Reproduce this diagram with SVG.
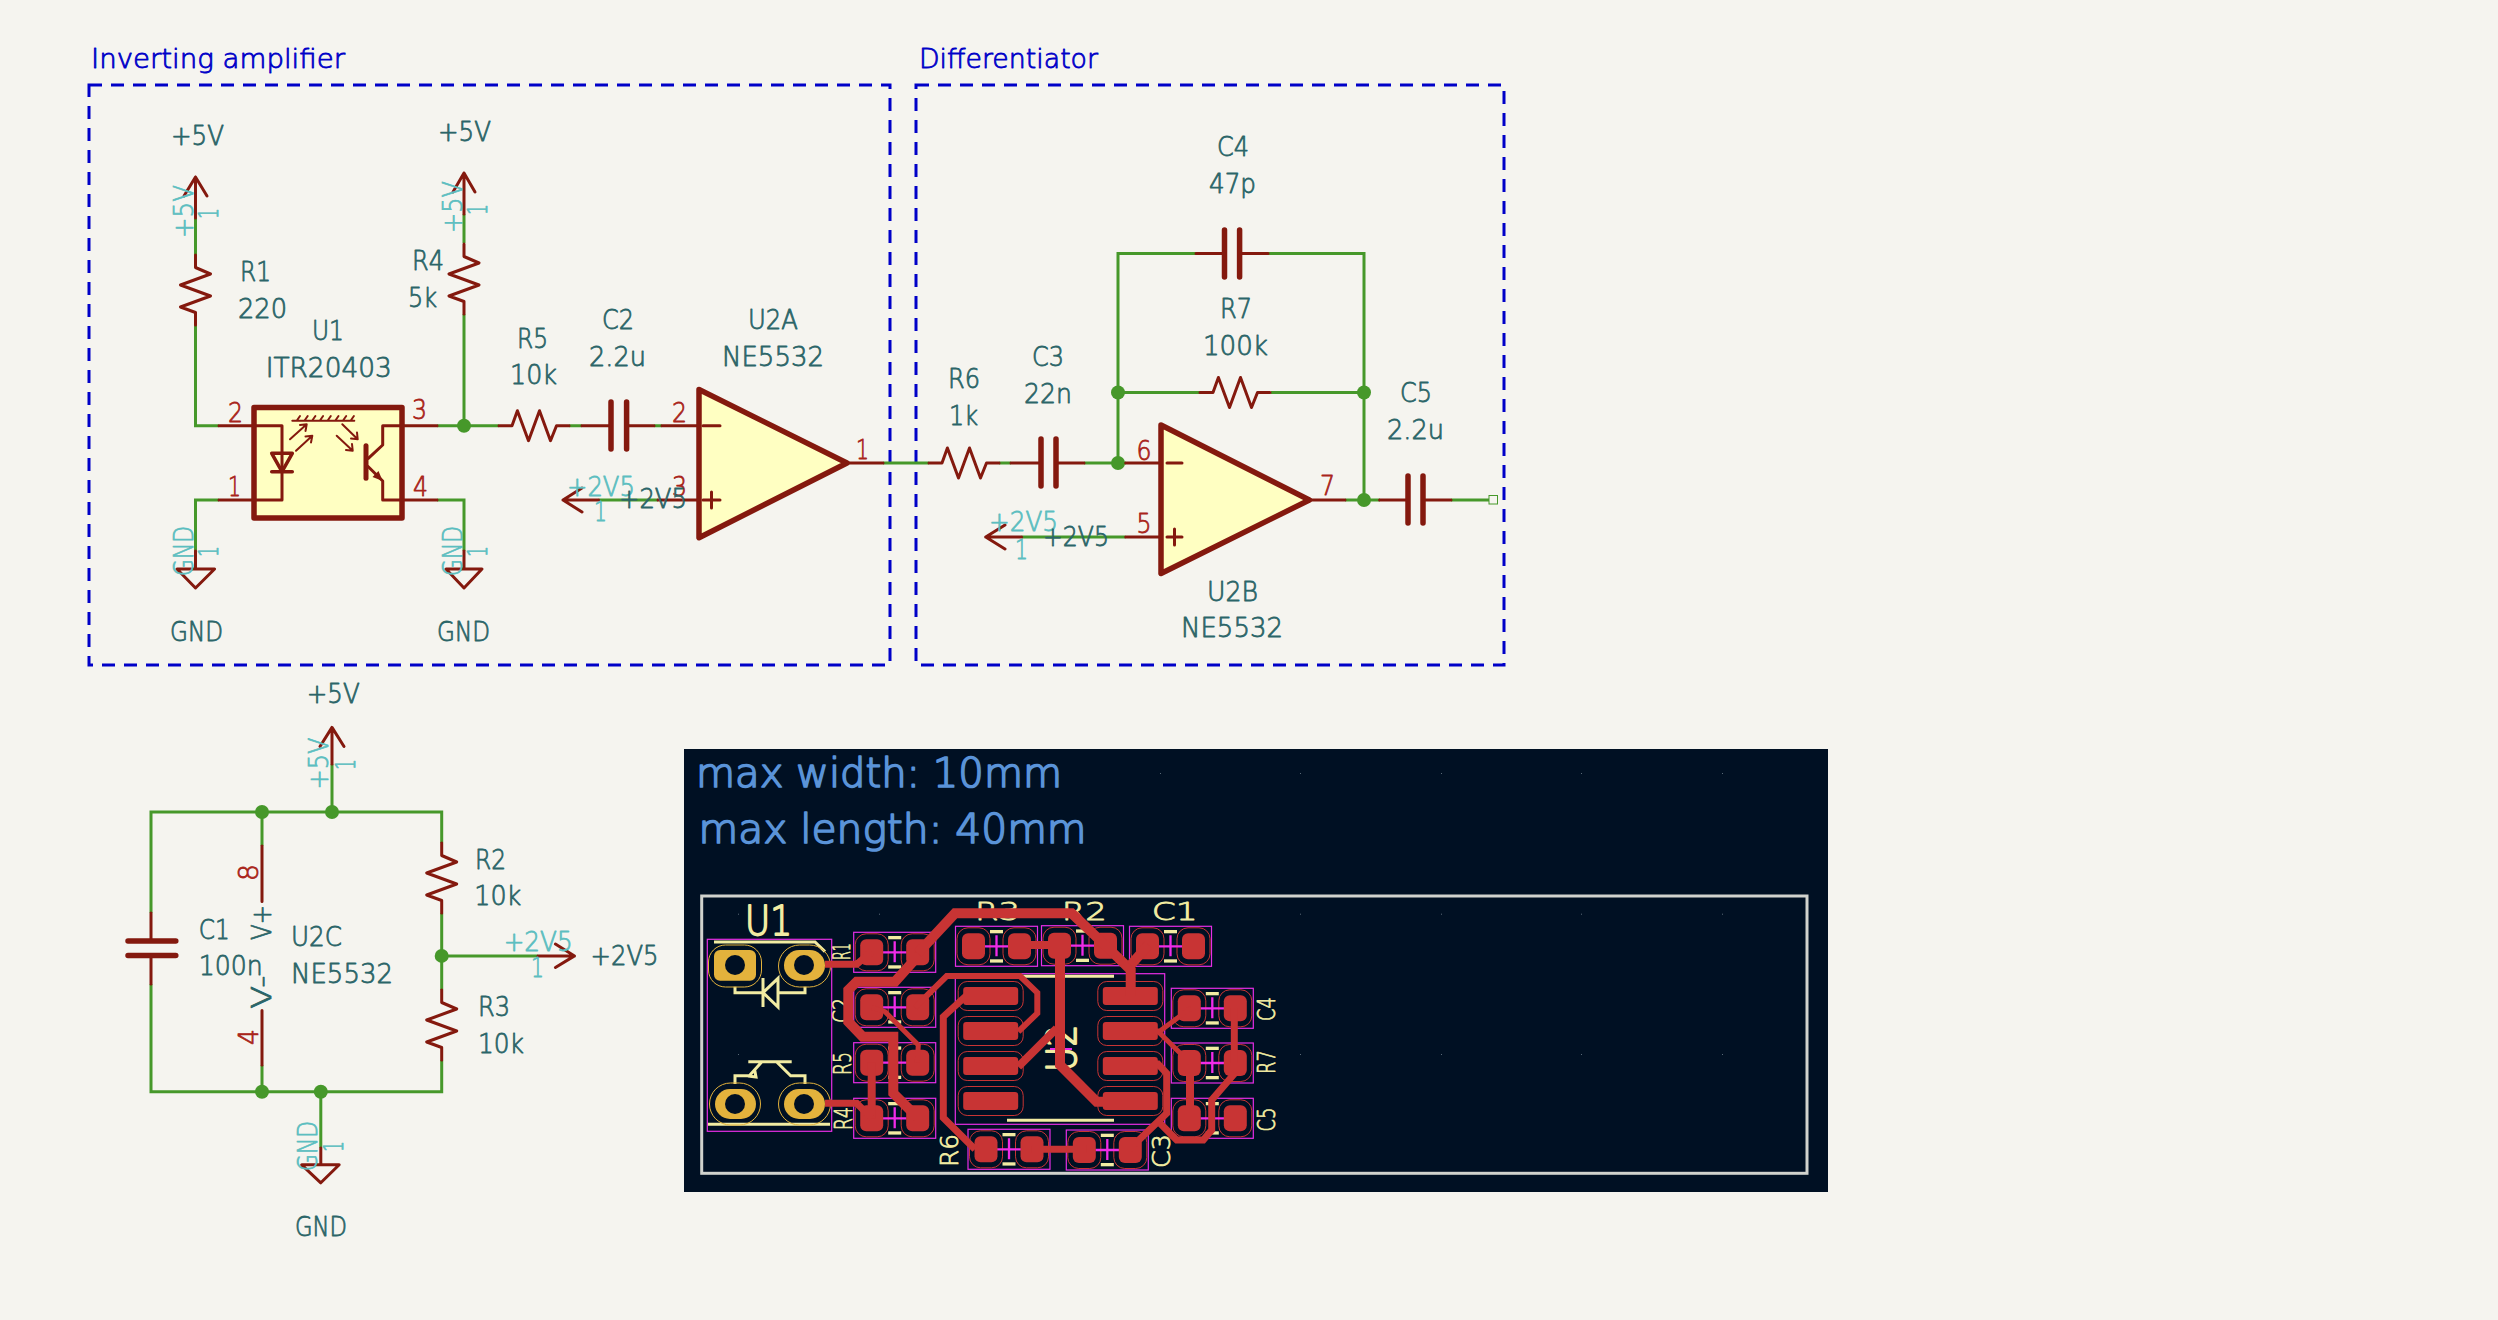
<svg xmlns="http://www.w3.org/2000/svg" width="2498" height="1320" viewBox="0 0 2498 1320">
<style>
text{font-family:"DejaVu Sans","Liberation Sans",sans-serif;font-weight:200;stroke-linejoin:round}
.w{fill:none;stroke:#46982a;stroke-width:3;stroke-linejoin:miter}
.s{fill:none;stroke:#84190e;stroke-width:3;stroke-linejoin:round;stroke-linecap:round}
.b{fill:#ffffc2;stroke:#84190e;stroke-width:5.500;stroke-linejoin:round}
.p{fill:none;stroke:#84190e;stroke-width:5.500;stroke-linecap:round}
.v{fill:#2b6568;stroke:#2b6568;stroke-width:.8;font-size:26.500px}
.n{fill:#a9241a;stroke:#a9241a;stroke-width:.8;font-size:26.500px}
.c{fill:#5cbec0;stroke:#5cbec0;stroke-width:.8;font-size:26.500px}
.t{fill:#0000c8;stroke:#0000c8;stroke-width:.8;font-size:26.500px}
.j{fill:#46982a}
.d{fill:none;stroke:#0000c8;stroke-width:3;stroke-dasharray:13 9}
.tr{fill:none;stroke:#c83434;stroke-linejoin:miter;stroke-linecap:butt}
.sk{fill:#f2eca2;stroke:#f2eca2;stroke-width:.8;font-size:24px}
.bg{font-size:40px;stroke-width:1.800}
.pt{fill:#5a93d8;stroke:#5a93d8;stroke-width:1.700;font-size:40px}
.sl{fill:none;stroke:#f2eca2;stroke-width:3}
.g{fill:#e3b23c}
.h{fill:#001023}
.gl{fill:none;stroke:#e3b23c;stroke-width:1}
.m{fill:none;stroke:#e62ee6;stroke-width:1.200}
.mc{fill:none;stroke:#f02be8;stroke-width:2.300}
</style>
<defs>
<path id="rh" class="s" d="M0 0H13L18.400 -15L29.500 15L40.500 -15L51.500 15L57.500 0H70"/>
<path id="rv" class="s" d="M0 0V12.500L15 19L-15 30L15 41L-15 52L0 57.500V70"/>
<g id="smd">
<rect x="-41" y="-20" width="82" height="40" class="m"/>
<rect x="-39.500" y="-18.500" width="33" height="37" rx="11" fill="none" stroke="#c83434" stroke-width="1"/>
<rect x="6.500" y="-18.500" width="33" height="37" rx="11" fill="none" stroke="#c83434" stroke-width="1"/>
<rect x="-6.500" y="-16.300" width="13" height="3.300" fill="#f2eca2"/>
<rect x="-6.500" y="13" width="13" height="3.300" fill="#f2eca2"/>
<path class="mc" d="M-12 0H12M0 -11V10"/>
<rect x="-34.500" y="-13" width="23" height="26" rx="6" fill="#c83434"/>
<rect x="11.500" y="-13" width="23" height="26" rx="6" fill="#c83434"/>
</g>
<g id="so">
<rect x="-32.500" y="-14.500" width="65" height="29" rx="9" fill="none" stroke="#c83434" stroke-width="1"/>
<rect x="-27.500" y="-9" width="55" height="18" rx="3" fill="#c83434"/>
</g>
</defs>
<rect width="2498" height="1320" fill="#f5f4ef"/>

<g id="frames">
<rect class="d" x="89" y="85" width="801" height="580"/>
<rect class="d" x="916" y="85" width="588" height="580"/>
<text class="t" x="91" y="68" textLength="254" lengthAdjust="spacingAndGlyphs">Inverting amplifier</text>
<text class="t" x="919" y="68" textLength="179" lengthAdjust="spacingAndGlyphs">Differentiator</text>
</g>

<g id="connectors">
<path class="w" d="M195.500 218V255M195.500 325V425.700H219M195.500 551V500H219"/>
<path class="w" d="M464 214V243M464 314V425.700M437 425.700H499M569 425.700H582M654 425.700H662"/>
<path class="w" d="M464 551V500H437M598.600 500H658M883 463H929M999 463H1011M1084 463H1126"/>
<path class="w" d="M1196 253.600H1118V463M1268 253.600H1364V500M1118 392.500H1200M1271 392.500H1364M1345 500H1380M1451 500H1489M1021.600 537H1125.700"/>
<path class="w" d="M262 846V812M151 913V812H441.700V843"/>
<path class="w" d="M151 984V1091.700H441.700V1060M441.700 913V990M441.700 955.900H538M262 1065V1091.700M332 764V812M320.800 1091.700V1148"/>
<rect x="1489" y="495.500" width="8.500" height="8.500" fill="none" stroke="#46982a" stroke-width="1"/>
<g class="j">
<circle cx="464" cy="425.700" r="7"/><circle cx="1118" cy="463" r="7"/><circle cx="1118" cy="392.500" r="7"/><circle cx="1364" cy="392.500" r="7"/><circle cx="1364" cy="500" r="7"/>
<circle cx="262" cy="812" r="7"/><circle cx="332" cy="812" r="7"/><circle cx="441.700" cy="955.900" r="7"/><circle cx="262" cy="1091.700" r="7"/><circle cx="320.800" cy="1091.700" r="7"/>
</g>
</g>

<g id="pwr1">
<path class="s" d="M195.500 218V177M184 196L195.500 177L207 196"/>
<text class="v" x="171" y="144.600" textLength="53" lengthAdjust="spacingAndGlyphs">+5V</text>
<text class="c" transform="rotate(-90 193 238)" x="193" y="238" textLength="53" lengthAdjust="spacingAndGlyphs">+5V</text>
<text class="c" transform="rotate(-90 218 219)" x="218" y="219" textLength="11" lengthAdjust="spacingAndGlyphs">1</text>
</g>
<g id="pwr2">
<path class="s" d="M464 214V173M453 192L464 173L475 192"/>
<text class="v" x="438" y="141" textLength="53" lengthAdjust="spacingAndGlyphs">+5V</text>
<text class="c" transform="rotate(-90 461.500 233)" x="461.500" y="233" textLength="52" lengthAdjust="spacingAndGlyphs">+5V</text>
<text class="c" transform="rotate(-90 486.700 215)" x="486.700" y="215" textLength="11" lengthAdjust="spacingAndGlyphs">1</text>
</g>
<g id="R1"><use href="#rv" x="195.500" y="255"/>
<text class="v" x="240" y="281" textLength="31" lengthAdjust="spacingAndGlyphs">R1</text>
<text class="v" x="238" y="317.600" textLength="49" lengthAdjust="spacingAndGlyphs">220</text></g>
<g id="R4"><use href="#rv" x="464" y="244"/>
<text class="v" x="412" y="270.400" textLength="32" lengthAdjust="spacingAndGlyphs">R4</text>
<text class="v" x="408" y="307" textLength="29" lengthAdjust="spacingAndGlyphs">5k</text></g>
<g id="U1">
<rect class="b" x="254" y="407.500" width="148" height="110.500"/>
<path class="s" d="M219 425.700H282V500H219M382.700 425.700H437M382.700 425.700V445L368.300 458.300M368.300 466.700L382.700 481V500H437"/>
<path class="s" style="stroke-width:3.500" d="M271.700 453.300H292.300L282 471.700ZM271.700 471.700H292.300"/>
<path class="s" style="stroke-width:5" d="M366 445.700V478.300"/>
<path class="s" style="stroke-width:2" d="M292.300 420.700H354.300M296.700 420.700L300 416M304.400 420.700L307.700 416M312.100 420.700L315.400 416M319.800 420.700L323.100 416M327.500 420.700L330.800 416M335.200 420.700L338.500 416M342.900 420.700L346.200 416M350.600 420.700L353.900 416"/>
<path class="s" style="stroke-width:2" d="M290 439.300L306.700 424.300M300 425L306.700 424.300L305.500 431M296 450.700L312.300 435.700M305.500 436.500L312.300 435.700L311 442.500M342.300 424.300L357.700 439.300M357 432.500L357.700 439.300L351 438.500M336.700 435.700L352.700 450.700M352 444L352.700 450.700L346 450"/>
<path fill="#84190e" d="M382.700 481L372.500 477L378.500 471Z"/>
<text class="n" x="228" y="422" textLength="15" lengthAdjust="spacingAndGlyphs">2</text>
<text class="n" x="228" y="495.600" textLength="13" lengthAdjust="spacingAndGlyphs">1</text>
<text class="n" x="412" y="419" textLength="15" lengthAdjust="spacingAndGlyphs">3</text>
<text class="n" x="413" y="495.600" textLength="15" lengthAdjust="spacingAndGlyphs">4</text>
<text class="v" x="312" y="340" textLength="32" lengthAdjust="spacingAndGlyphs">U1</text>
<text class="v" x="265.700" y="376.500" textLength="126" lengthAdjust="spacingAndGlyphs">ITR20403</text>
</g>
<g id="gnd1">
<path class="s" d="M195.500 551V569M177 569H214.600L195.500 588Z"/>
<text class="v" x="170" y="640.800" textLength="53" lengthAdjust="spacingAndGlyphs">GND</text>
<text class="c" transform="rotate(-90 193 576)" x="193" y="576" textLength="50" lengthAdjust="spacingAndGlyphs">GND</text>
<text class="c" transform="rotate(-90 218 557)" x="218" y="557" textLength="11" lengthAdjust="spacingAndGlyphs">1</text>
</g>
<g id="gnd2">
<path class="s" d="M464 551V569M446 569H482L464 588Z"/>
<text class="v" x="437" y="640.800" textLength="53" lengthAdjust="spacingAndGlyphs">GND</text>
<text class="c" transform="rotate(-90 461.500 576)" x="461.500" y="576" textLength="50" lengthAdjust="spacingAndGlyphs">GND</text>
<text class="c" transform="rotate(-90 486.700 557)" x="486.700" y="557" textLength="11" lengthAdjust="spacingAndGlyphs">1</text>
</g>
<g id="R5"><use href="#rh" x="499" y="425.700"/>
<text class="v" x="517" y="348" textLength="31" lengthAdjust="spacingAndGlyphs">R5</text>
<text class="v" x="510" y="384" textLength="47" lengthAdjust="spacingAndGlyphs">10k</text></g>
<g id="C2"><path class="s" d="M582 425.700H611M626.600 425.700H654"/><path class="p" d="M611 402V449M626.600 402V449"/>
<text class="v" x="602" y="328.500" textLength="32" lengthAdjust="spacingAndGlyphs">C2</text>
<text class="v" x="589" y="366" textLength="57" lengthAdjust="spacingAndGlyphs">2.2u</text></g>
<g id="U2A">
<path class="s" d="M662 425.700H699M658 500H699M847 463H883"/>
<path class="b" d="M699 389.500L847 463L699 537.700Z"/>
<path class="s" d="M703 425.700H720M703 500H720M711.500 492V508"/>
<text class="n" x="672" y="422" textLength="15" lengthAdjust="spacingAndGlyphs">2</text>
<text class="n" x="672" y="495.600" textLength="15" lengthAdjust="spacingAndGlyphs">3</text>
<text class="n" x="856" y="459" textLength="13" lengthAdjust="spacingAndGlyphs">1</text>
<text class="v" x="748" y="328.500" textLength="50" lengthAdjust="spacingAndGlyphs">U2A</text>
<text class="v" x="722" y="366" textLength="102" lengthAdjust="spacingAndGlyphs">NE5532</text>
</g>
<g id="p25a">
<path class="s" d="M598.600 500H563M582 488L563 500L582 512"/>
<text class="c" x="567" y="495.600" textLength="68" lengthAdjust="spacingAndGlyphs">+2V5</text>
<text class="c" x="594" y="521" textLength="13" lengthAdjust="spacingAndGlyphs">1</text>
<text class="v" x="619" y="508" textLength="68" lengthAdjust="spacingAndGlyphs">+2V5</text>
</g>
<g id="R6"><use href="#rh" x="929" y="463"/>
<text class="v" x="948" y="388" textLength="32" lengthAdjust="spacingAndGlyphs">R6</text>
<text class="v" x="949" y="425" textLength="29" lengthAdjust="spacingAndGlyphs">1k</text></g>
<g id="C3"><path class="s" d="M1011 463H1041M1056 463H1084"/><path class="p" d="M1041 439V486M1056 439V486"/>
<text class="v" x="1032" y="366" textLength="32" lengthAdjust="spacingAndGlyphs">C3</text>
<text class="v" x="1024" y="403" textLength="48" lengthAdjust="spacingAndGlyphs">22n</text></g>
<g id="C4"><path class="s" d="M1196 253.600H1224.500M1239.600 253.600H1268"/><path class="p" d="M1224.500 230V277M1239.600 230V277"/>
<text class="v" x="1217" y="155.500" textLength="32" lengthAdjust="spacingAndGlyphs">C4</text>
<text class="v" x="1209" y="192.600" textLength="47" lengthAdjust="spacingAndGlyphs">47p</text></g>
<g id="R7"><use href="#rh" x="1200" y="392.500"/>
<text class="v" x="1220" y="317.600" textLength="32" lengthAdjust="spacingAndGlyphs">R7</text>
<text class="v" x="1203" y="354.600" textLength="65" lengthAdjust="spacingAndGlyphs">100k</text></g>
<g id="U2B">
<path class="s" d="M1125.700 463H1161M1125.700 537H1161M1309.400 500H1345"/>
<path class="b" d="M1161 425L1309.400 500L1161 573.500Z"/>
<path class="s" d="M1167 463H1182M1167 537H1182M1174.500 529V545"/>
<text class="n" x="1136.500" y="460" textLength="15" lengthAdjust="spacingAndGlyphs">6</text>
<text class="n" x="1136.500" y="532.600" textLength="15" lengthAdjust="spacingAndGlyphs">5</text>
<text class="n" x="1320" y="494.700" textLength="15" lengthAdjust="spacingAndGlyphs">7</text>
<text class="v" x="1207" y="601" textLength="51" lengthAdjust="spacingAndGlyphs">U2B</text>
<text class="v" x="1181" y="637" textLength="102" lengthAdjust="spacingAndGlyphs">NE5532</text>
</g>
<g id="p25b">
<path class="s" d="M1021.600 537H985.700M1005 525L985.700 537L1005 549"/>
<text class="c" x="989" y="531" textLength="69" lengthAdjust="spacingAndGlyphs">+2V5</text>
<text class="c" x="1015" y="558.700" textLength="13" lengthAdjust="spacingAndGlyphs">1</text>
<text class="v" x="1043" y="546" textLength="66" lengthAdjust="spacingAndGlyphs">+2V5</text>
</g>
<g id="C5"><path class="s" d="M1379.600 500H1408M1423 500H1451"/><path class="p" d="M1408 476V523M1423 476V523"/>
<text class="v" x="1400" y="402" textLength="32" lengthAdjust="spacingAndGlyphs">C5</text>
<text class="v" x="1387" y="439" textLength="57" lengthAdjust="spacingAndGlyphs">2.2u</text></g>

<g id="pwr3">
<path class="s" d="M332 764V727.400M320 746.500L332 727.400L344 746.500"/>
<text class="v" x="306.700" y="703.300" textLength="53" lengthAdjust="spacingAndGlyphs">+5V</text>
<text class="c" transform="rotate(-90 328.500 789.400)" x="328.500" y="789.400" textLength="52" lengthAdjust="spacingAndGlyphs">+5V</text>
<text class="c" transform="rotate(-90 354.500 770)" x="354.500" y="770" textLength="11" lengthAdjust="spacingAndGlyphs">1</text>
</g>
<g id="C1"><path class="s" d="M151 913V941M151 955.500V984"/><path class="p" d="M128 941H175.800M128 955.500H175.800"/>
<text class="v" x="198.700" y="938.600" textLength="31" lengthAdjust="spacingAndGlyphs">C1</text>
<text class="v" x="198.700" y="975.400" textLength="64" lengthAdjust="spacingAndGlyphs">100n</text></g>
<g id="U2C">
<path class="s" d="M262 846V901.500M262 1010.600V1065"/>
<text class="n" transform="rotate(-90 257.700 881)" x="257.700" y="881" textLength="17" lengthAdjust="spacingAndGlyphs">8</text>
<text class="n" transform="rotate(-90 257.700 1045)" x="257.700" y="1045" textLength="16" lengthAdjust="spacingAndGlyphs">4</text>
<text class="v" transform="rotate(-90 271 940)" x="271" y="940" textLength="35" lengthAdjust="spacingAndGlyphs">V+</text>
<text class="v" transform="rotate(-90 271 1008.700)" x="271" y="1008.700" textLength="33" lengthAdjust="spacingAndGlyphs">V-</text>
<text class="v" x="291" y="946.300" textLength="51" lengthAdjust="spacingAndGlyphs">U2C</text>
<text class="v" x="291" y="983" textLength="102" lengthAdjust="spacingAndGlyphs">NE5532</text>
</g>
<g id="R2"><use href="#rv" x="441.700" y="843"/>
<text class="v" x="475" y="869" textLength="31" lengthAdjust="spacingAndGlyphs">R2</text>
<text class="v" x="474.300" y="905.400" textLength="47" lengthAdjust="spacingAndGlyphs">10k</text></g>
<g id="R3"><use href="#rv" x="441.700" y="990"/>
<text class="v" x="478" y="1015.600" textLength="32" lengthAdjust="spacingAndGlyphs">R3</text>
<text class="v" x="478" y="1052.700" textLength="46" lengthAdjust="spacingAndGlyphs">10k</text></g>
<g id="p25c">
<path class="s" d="M538 955.900H574.500M555.400 944L574.500 955.900L555.400 967.500"/>
<text class="c" x="503.700" y="951.300" textLength="69" lengthAdjust="spacingAndGlyphs">+2V5</text>
<text class="c" x="531" y="977" textLength="13" lengthAdjust="spacingAndGlyphs">1</text>
<text class="v" x="590.600" y="964.700" textLength="68" lengthAdjust="spacingAndGlyphs">+2V5</text>
</g>
<g id="gnd3">
<path class="s" d="M320.800 1148V1164.800M301.700 1164.800H339.200L320.800 1182.800Z"/>
<text class="v" x="295" y="1236.400" textLength="52" lengthAdjust="spacingAndGlyphs">GND</text>
<text class="c" transform="rotate(-90 317.400 1171)" x="317.400" y="1171" textLength="50" lengthAdjust="spacingAndGlyphs">GND</text>
<text class="c" transform="rotate(-90 343 1152)" x="343" y="1152" textLength="11" lengthAdjust="spacingAndGlyphs">1</text>
</g>

<g id="pcb">
<rect x="684" y="749" width="1144" height="443" fill="#001023"/>
<rect x="701.700" y="896" width="1105.300" height="277.300" fill="none" stroke="#d0d2cd" stroke-width="3"/>
<g fill="#5a6a78">
<rect x="1160" y="773" width="1" height="1"/><rect x="1300" y="773" width="1" height="1"/><rect x="1441" y="773" width="1" height="1"/><rect x="1581" y="773" width="1" height="1"/><rect x="1722" y="773" width="1" height="1"/>
<rect x="738" y="913.700" width="1" height="1"/><rect x="879" y="913.700" width="1" height="1"/><rect x="1300" y="913.700" width="1" height="1"/><rect x="1441" y="913.700" width="1" height="1"/><rect x="1581" y="913.700" width="1" height="1"/><rect x="1722" y="913.700" width="1" height="1"/>
<rect x="738" y="1054" width="1" height="1"/><rect x="1300" y="1054" width="1" height="1"/><rect x="1441" y="1054" width="1" height="1"/><rect x="1581" y="1054" width="1" height="1"/><rect x="1722" y="1054" width="1" height="1"/>
</g>
<text class="pt" x="696" y="786.700" textLength="366" lengthAdjust="spacingAndGlyphs">max width: 10mm</text>
<text class="pt" x="698.500" y="842.700" textLength="388" lengthAdjust="spacingAndGlyphs">max length: 40mm</text>
<text class="sk bg" x="745" y="935" textLength="47" lengthAdjust="spacingAndGlyphs">U1</text>
<text class="sk" x="975" y="920" textLength="45" lengthAdjust="spacingAndGlyphs">R3</text>
<text class="sk" x="1061.700" y="920" textLength="45" lengthAdjust="spacingAndGlyphs">R2</text>
<text class="sk" x="1151.700" y="920" textLength="46" lengthAdjust="spacingAndGlyphs">C1</text>
<text class="sk" transform="rotate(-90 850 960)" x="850" y="960" textLength="17" lengthAdjust="spacingAndGlyphs">R1</text>
<text class="sk" transform="rotate(-90 850 1023)" x="850" y="1023" textLength="25" lengthAdjust="spacingAndGlyphs">C2</text>
<text class="sk" transform="rotate(-90 850.700 1075)" x="850.700" y="1075" textLength="23" lengthAdjust="spacingAndGlyphs">R5</text>
<text class="sk" transform="rotate(-90 851.700 1130)" x="851.700" y="1130" textLength="23" lengthAdjust="spacingAndGlyphs">R4</text>
<text class="sk" transform="rotate(-90 958.300 1167)" x="958.300" y="1167" textLength="33" lengthAdjust="spacingAndGlyphs">R6</text>
<text class="sk" transform="rotate(-90 1170 1168)" x="1170" y="1168" textLength="34" lengthAdjust="spacingAndGlyphs">C3</text>
<text class="sk" transform="rotate(-90 1275 1021)" x="1275" y="1021" textLength="24" lengthAdjust="spacingAndGlyphs">C4</text>
<text class="sk" transform="rotate(-90 1275 1074)" x="1275" y="1074" textLength="24" lengthAdjust="spacingAndGlyphs">R7</text>
<text class="sk" transform="rotate(-90 1275 1131.500)" x="1275" y="1131.500" textLength="24" lengthAdjust="spacingAndGlyphs">C5</text>
<text class="sk bg" transform="rotate(-90 1076 1071.700)" x="1076" y="1071.700" textLength="47" lengthAdjust="spacingAndGlyphs">U2</text>
<rect x="707.300" y="939.300" width="124.400" height="192" class="m"/>
<path class="sl" d="M714 942H815L825 951.700M708 1124.300H830M735 986.700V992.700H761.700M805 986.700V992.700H778M763 978V1007M763 992.700L778 978.300V1007Z"/>
<path class="sl" d="M748.300 1061.700H791.700M735 1084V1075.700H749.300L761.700 1062M776.700 1062L790.700 1075.700H805V1084M748 1076L756 1077L754.500 1069"/>
<rect x="708.500" y="945" width="53" height="42" rx="17" class="gl"/><rect x="778.500" y="945" width="52" height="42" rx="21" class="gl"/>
<rect x="709.500" y="1083" width="51" height="42" rx="21" class="gl"/><rect x="778.500" y="1083" width="52" height="42" rx="21" class="gl"/>
<rect x="714" y="950" width="42" height="30.700" rx="6" class="g"/><rect x="784" y="950" width="41" height="30.700" rx="15.300" class="g"/>
<rect x="715" y="1089" width="41" height="30" rx="15" class="g"/><rect x="784" y="1089" width="41" height="30" rx="15" class="g"/>
<circle cx="735" cy="965" r="10" class="h"/><circle cx="804" cy="965" r="10" class="h"/><circle cx="735" cy="1104" r="10" class="h"/><circle cx="804" cy="1104" r="10" class="h"/>
<rect x="955.300" y="973.700" width="209.400" height="150.600" class="m"/>
<path class="sl" d="M1021.700 976.300H1114M1007 1120.300H1114"/>
<use href="#smd" x="894.700" y="952.300"/><use href="#smd" x="894.700" y="1007.300"/><use href="#smd" x="894.700" y="1062.700"/><use href="#smd" x="894.700" y="1118.300"/>
<use href="#smd" x="996.500" y="946.300"/><use href="#smd" x="1082.500" y="945.700"/><use href="#smd" x="1170.500" y="946.300"/>
<use href="#smd" x="1212.300" y="1008.300"/><use href="#smd" x="1212.300" y="1063"/><use href="#smd" x="1212.300" y="1118.300"/>
<use href="#smd" x="1009" y="1149.300"/><use href="#smd" x="1107.300" y="1150"/>
<use href="#so" x="990.700" y="996"/><use href="#so" x="990.700" y="1031"/><use href="#so" x="990.700" y="1066"/><use href="#so" x="990.700" y="1101"/>
<use href="#so" x="1130.300" y="996"/><use href="#so" x="1130.300" y="1031"/><use href="#so" x="1130.300" y="1066"/><use href="#so" x="1130.300" y="1101"/>
<path class="m" style="stroke-width:2" d="M1050 1049H1072"/>
<g class="tr" style="stroke-width:10">
<path d="M917.700 953.300L955 913.300H1071.700L1105 945L1130.700 970V996"/>
<path d="M1148.300 945L1130.700 965"/>
<path d="M919 955L895 981.700H856.700L848.300 990V1021.700L862.700 1036.700H893.300V1093.300L917.300 1117.300"/>
<path d="M1060 945V1065L1096.700 1101.700H1130"/>
</g>
<g class="tr" style="stroke-width:8">
<path d="M1018.300 1066.700L1056.700 1028.300"/>
<path d="M1020 945H1060"/>
<path d="M871.700 1062.700V1118.300"/>
<path d="M1190 1063V1118"/>
</g>
<g class="tr" style="stroke-width:7">
<path d="M825 964.300H856.700L871.700 951.700"/>
<path d="M825 1103.300H856.700L871.700 1118.300"/>
<path d="M1031.700 1149.300H1086.700"/>
<path d="M990 996H966L943.300 1016.700V1117.700L975 1149.300"/>
<path d="M1129.300 1149.300L1166.700 1113.300V1073.300L1158 1064H1130"/>
<path d="M1234.300 1008V1063"/>
<path d="M1235 1073L1211.700 1100V1130L1203.300 1140H1176.700L1160 1123.300"/>
</g>
<g class="tr" style="stroke-width:6">
<path d="M915 1007.300L946.700 976H1020L1037.300 992.700V1013.300L1018.300 1031.700"/>
</g>
<g class="tr" style="stroke-width:5">
<path d="M871.700 1007.300L885 1011.700L918.300 1045L917.300 1062.700"/>
<path d="M1130 1031H1160L1191 1008M1158.300 1031.700L1190 1062.700"/>
</g>
</g>
</svg>
